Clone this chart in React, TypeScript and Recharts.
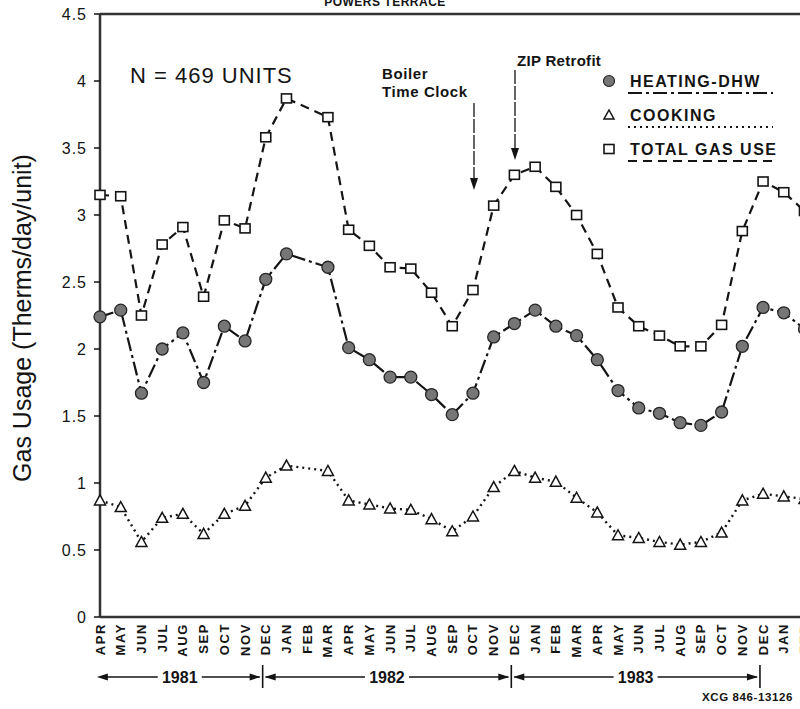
import React from 'react';
import { LineChart, Line, XAxis, YAxis, ReferenceLine } from 'recharts';

// ---------- data ----------
const months = [
  'APR', 'MAY', 'JUN', 'JUL', 'AUG', 'SEP', 'OCT', 'NOV', 'DEC',
  'JAN', 'FEB', 'MAR', 'APR', 'MAY', 'JUN', 'JUL', 'AUG', 'SEP', 'OCT', 'NOV', 'DEC',
  'JAN', 'FEB', 'MAR', 'APR', 'MAY', 'JUN', 'JUL', 'AUG', 'SEP', 'OCT', 'NOV', 'DEC',
  'JAN', 'FEB',
];

const heatingDhw = [
  2.24, 2.29, 1.67, 2.0, 2.12, 1.75, 2.17, 2.06, 2.52,
  2.71, null, 2.61, 2.01, 1.92, 1.79, 1.79, 1.66, 1.51, 1.67, 2.09, 2.19,
  2.29, 2.17, 2.1, 1.92, 1.69, 1.56, 1.52, 1.45, 1.43, 1.53, 2.02, 2.31,
  2.27, 2.15,
];

const cooking = [
  0.87, 0.82, 0.56, 0.74, 0.77, 0.62, 0.77, 0.83, 1.04,
  1.13, null, 1.09, 0.87, 0.84, 0.81, 0.8, 0.73, 0.64, 0.75, 0.97, 1.09,
  1.04, 1.01, 0.89, 0.78, 0.61, 0.59, 0.56, 0.54, 0.56, 0.63, 0.87, 0.92,
  0.9, 0.88,
];

const totalGas = [
  3.15, 3.14, 2.25, 2.78, 2.91, 2.39, 2.96, 2.9, 3.58,
  3.87, null, 3.73, 2.89, 2.77, 2.61, 2.6, 2.42, 2.17, 2.44, 3.07, 3.3,
  3.36, 3.21, 3.0, 2.71, 2.31, 2.17, 2.1, 2.02, 2.02, 2.18, 2.88, 3.25,
  3.17, 3.03,
];

const yTicks = [0, 0.5, 1, 1.5, 2, 2.5, 3, 3.5, 4, 4.5];

const years = [
  { label: '1981', start: -0.15, end: 7.85 },
  { label: '1982', start: 7.85, end: 19.85 },
  { label: '1983', start: 19.85, end: 31.85 },
];

const data = months.map((m, i) => ({
  i,
  month: m,
  heating: heatingDhw[i],
  cooking: cooking[i],
  total: totalGas[i],
}));

// ---------- layout ----------
const CHART_W = 810;
const CHART_H = 709;
const PLOT_LEFT = 100;
const PLOT_TOP = 14;
const X_AXIS_H = 92;
const PLOT_BOTTOM = CHART_H - X_AXIS_H;
const X_MAX = 34;
const RIGHT_MARGIN = 5.5;
const STEP = (CHART_W - RIGHT_MARGIN - PLOT_LEFT) / X_MAX;
const px = (i: number) => PLOT_LEFT + i * STEP;

const FONT = '"Liberation Sans", Arial, Helvetica, sans-serif';
const INK = '#141414';
const AXIS = '#333';

const HEAT_DASH = '14 4 3 4';
const COOK_DASH = '2 4';
const TOTAL_DASH = '9 6';

// ---------- markers ----------
const CircleDot = (p: any) => {
  const k = `c-${p.index}`;
  if (p.cx == null || p.cy == null || p.value == null) return <g key={k} />;
  return <circle key={k} cx={p.cx} cy={p.cy} r={6} fill="#767676" stroke="#262626" strokeWidth={1.3} />;
};

const TriangleDot = (p: any) => {
  const k = `t-${p.index}`;
  if (p.cx == null || p.cy == null || p.value == null) return <g key={k} />;
  const { cx, cy } = p;
  return (
    <polygon
      key={k}
      points={`${cx},${cy - 5.5} ${cx + 5.5},${cy + 4.5} ${cx - 5.5},${cy + 4.5}`}
      fill="#fff"
      stroke={INK}
      strokeWidth={1.5}
    />
  );
};

const SquareDot = (p: any) => {
  const k = `s-${p.index}`;
  if (p.cx == null || p.cy == null || p.value == null) return <g key={k} />;
  return (
    <rect key={k} x={p.cx - 5} y={p.cy - 4.5} width={10} height={9} fill="#fff" stroke={INK} strokeWidth={1.6} />
  );
};

const MonthTick = (p: any) => {
  const label = months[p.payload.value] ?? '';
  const x = p.x;
  const y = PLOT_BOTTOM + 6;
  return (
    <text
      transform={`translate(${x},${y}) rotate(-90)`}
      textAnchor="end"
      dominantBaseline="central"
      fontFamily={FONT}
      fontWeight="bold"
      fontSize={13}
      letterSpacing={1.6}
      fill={INK}
    >
      {label}
    </text>
  );
};

const legendItems = [
  { label: 'HEATING-DHW', marker: 'circle', dash: HEAT_DASH, y: 81 },
  { label: 'COOKING', marker: 'triangle', dash: COOK_DASH, y: 115 },
  { label: 'TOTAL GAS USE', marker: 'square', dash: TOTAL_DASH, y: 149 },
];

const Arrow = ({ x, y1, y2 }: { x: number; y1: number; y2: number }) => (
  <g>
    <line x1={x} y1={y1} x2={x} y2={y2 - 10} stroke={INK} strokeWidth={1.3} strokeDasharray="14 2" />
    <polygon points={`${x - 4},${y2 - 12} ${x + 4},${y2 - 12} ${x},${y2}`} fill={INK} />
  </g>
);

const HArrowHead = ({ tip, y, dir }: { tip: number; y: number; dir: 1 | -1 }) => (
  <polygon points={`${tip},${y} ${tip - dir * 11},${y - 3.5} ${tip - dir * 11},${y + 3.5}`} fill={INK} />
);

export default function App() {
  const yearY = 677;
  return (
    <div
      style={{
        position: 'absolute',
        left: 0,
        top: 0,
        width: 800,
        height: 709,
        overflow: 'hidden',
        background: '#fff',
      }}
    >
      <LineChart
        width={CHART_W}
        height={CHART_H}
        data={data}
        margin={{ top: PLOT_TOP, right: RIGHT_MARGIN, bottom: 0, left: 0 }}
      >
        <XAxis
          type="number"
          dataKey="i"
          domain={[0, X_MAX]}
          ticks={months.map((_, i) => i)}
          interval={0}
          height={X_AXIS_H}
          tickLine={false}
          axisLine={{ stroke: AXIS, strokeWidth: 2.5 }}
          tick={<MonthTick />}
        />
        <YAxis
          type="number"
          domain={[0, 4.5]}
          ticks={yTicks}
          width={PLOT_LEFT}
          tickSize={6}
          tickMargin={7}
          tickFormatter={(v: number) => String(v)}
          axisLine={{ stroke: AXIS, strokeWidth: 2.5 }}
          tickLine={{ stroke: INK, strokeWidth: 1.5 }}
          tick={{ fill: INK, fontSize: 16, fontFamily: FONT, letterSpacing: 1 }}
        />
        <ReferenceLine y={4.5} stroke={AXIS} strokeWidth={2.5} />
        <Line
          dataKey="total"
          stroke={INK}
          strokeWidth={2.2}
          strokeDasharray={TOTAL_DASH}
          connectNulls
          dot={SquareDot}
          activeDot={false}
          isAnimationActive={false}
        />
        <Line
          dataKey="heating"
          stroke={INK}
          strokeWidth={2.2}
          strokeDasharray={HEAT_DASH}
          connectNulls
          dot={CircleDot}
          activeDot={false}
          isAnimationActive={false}
        />
        <Line
          dataKey="cooking"
          stroke={INK}
          strokeWidth={2.4}
          strokeDasharray={COOK_DASH}
          connectNulls
          dot={TriangleDot}
          activeDot={false}
          isAnimationActive={false}
        />
      </LineChart>

      <svg
        width={800}
        height={709}
        style={{ position: 'absolute', left: 0, top: 0, pointerEvents: 'none' }}
        fontFamily={FONT}
      >
        {/* title, cut off at the top edge as in the source scan */}
        <text x={385} y={6} textAnchor="middle" fontSize={12} fontWeight="bold" fill={INK} letterSpacing={0.5}>
          POWERS TERRACE
        </text>

        {/* y-axis title */}
        <text
          transform={`translate(31,318) rotate(-90)`}
          textAnchor="middle"
          fontSize={25}
          fill={INK}
        >
          Gas Usage (Therms/day/unit)
        </text>

        <text x={130} y={83} fontSize={22} fill={INK} letterSpacing={1}>
          N = 469 UNITS
        </text>

        <text x={382} y={79} fontSize={15} fontWeight="bold" fill={INK} letterSpacing={0.6}>
          Boiler
        </text>
        <text x={382} y={97} fontSize={15} fontWeight="bold" fill={INK} letterSpacing={0.6}>
          Time Clock
        </text>
        <Arrow x={474} y1={103} y2={190} />

        <text x={517} y={66} fontSize={15} fontWeight="bold" fill={INK} letterSpacing={0.3}>
          ZIP Retrofit
        </text>
        <Arrow x={515} y1={70} y2={160} />

        {/* legend */}
        {legendItems.map((it) => (
          <g key={it.label}>
            {it.marker === 'circle' && <circle cx={609} cy={it.y} r={5.5} fill="#767676" stroke="#262626" strokeWidth={1.2} />}
            {it.marker === 'triangle' && (
              <polygon
                points={`609,${it.y - 5} 614,${it.y + 4} 604,${it.y + 4}`}
                fill="#fff"
                stroke={INK}
                strokeWidth={1.5}
              />
            )}
            {it.marker === 'square' && (
              <rect x={604} y={it.y - 4.5} width={10} height={9} fill="#fff" stroke={INK} strokeWidth={1.6} />
            )}
            <text x={630} y={it.y + 6} fontSize={16} fontWeight="bold" fill={INK} letterSpacing={1.5}>
              {it.label}
            </text>
            <line
              x1={628}
              x2={773}
              y1={it.y + 12}
              y2={it.y + 12}
              stroke={INK}
              strokeWidth={2}
              strokeDasharray={it.dash}
            />
          </g>
        ))}

        {/* year bands */}
        {years.map((yr, k) => {
          const a = px(yr.start);
          const b = px(yr.end);
          const mid = (a + b) / 2;
          const half = 22;
          return (
            <g key={yr.label}>
              <line x1={a + 3} x2={mid - half} y1={yearY} y2={yearY} stroke={INK} strokeWidth={1.4} />
              <line x1={mid + half} x2={b - 3} y1={yearY} y2={yearY} stroke={INK} strokeWidth={1.4} />
              <HArrowHead tip={a + (k === 0 ? 0 : 2)} y={yearY} dir={-1} />
              <HArrowHead tip={b - 2} y={yearY} dir={1} />
              <line x1={b} x2={b} y1={665} y2={688} stroke={INK} strokeWidth={1.6} />
              <text x={mid} y={yearY + 6} textAnchor="middle" fontSize={16} fontWeight="bold" fill={INK}>
                {yr.label}
              </text>
            </g>
          );
        })}

        <text x={702} y={701} fontSize={11.5} fontWeight="bold" fill={INK} letterSpacing={0.6}>
          XCG 846-13126
        </text>
      </svg>
    </div>
  );
}
